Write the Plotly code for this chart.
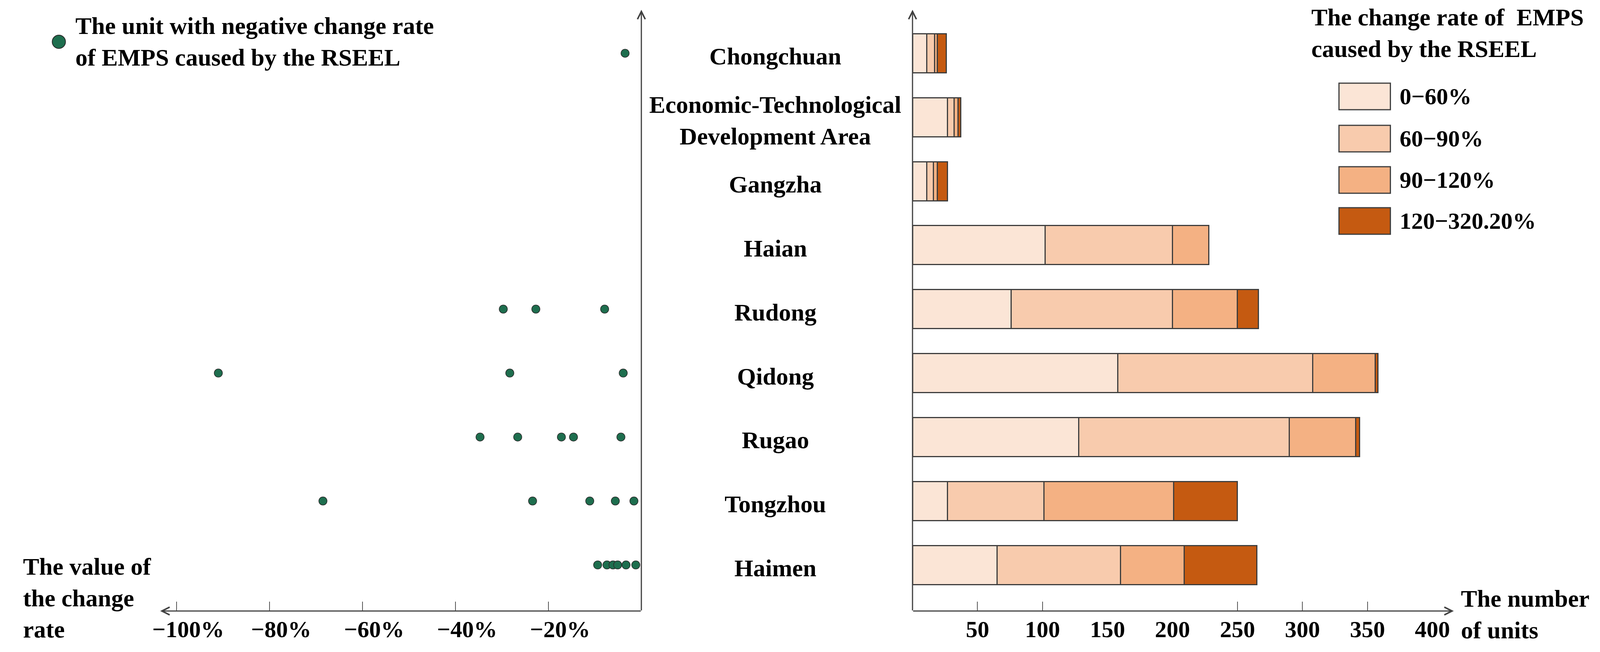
import plotly.graph_objects as go

# ---------------- data ----------------
districts = ["Chongchuan", "Economic-Technological Development Area", "Gangzha", "Haian",
             "Rudong", "Qidong", "Rugao", "Tongzhou", "Haimen"]
district_labels = ["Chongchuan", "Economic-Technological<br>Development Area", "Gangzha", "Haian",
                   "Rudong", "Qidong", "Rugao", "Tongzhou", "Haimen"]

bin_names = ["0\u221260%", "60\u221290%", "90\u2212120%", "120\u2212320.20%"]
units_0_60 = [11, 27, 11, 102, 76, 158, 128, 27, 65]
units_60_90 = [6, 5, 5, 98, 124, 150, 162, 74, 95]
units_90_120 = [2, 3, 3, 28, 50, 48, 51, 100, 49]
units_120_320 = [7, 2, 8, 0, 16, 2, 3, 49, 56]

# negative change rates (%) per district
neg_chongchuan = [-3.5]
neg_rudong = [-29.7, -22.7, -7.9]
neg_qidong = [-91.0, -28.3, -3.9]
neg_rugao = [-34.7, -26.6, -17.2, -14.6, -4.4]
neg_tongzhou = [-68.5, -23.4, -11.1, -5.6, -1.6]
neg_haimen = [-9.4, -7.4, -6.1, -5.1, -3.3, -1.2]

rate_ticks = [-100, -80, -60, -40, -20]
rate_ticktext = ["\u2212100%", "\u221280%", "\u221260%", "\u221240%", "\u221220%"]
unit_ticks = [50, 100, 150, 200, 250, 300, 350, 400]
unit_tickmarks = [50, 100, 250, 300, 350]

# ---------------- style ----------------
REF_W, REF_H = 4398, 1670      # reference geometry (positions given as fractions of it)
W, H = 4096, 1670              # browser viewport actually available
FONT = "Liberation Serif"
FS = 62
TFS = 60
bin_colors = ["#FBE5D6", "#F8CBAD", "#F4B183", "#C55A11"]
edge = "#3d3d3d"
dot_color = "#1E6E4E"
axis_color = "#404040"


def fx(p):
    return p / REF_W


def fy(p):
    return 1 - p / REF_H


y_dom = [fy(1565), fy(25)]
y_range = [-0.72, 8.68]
cat_order = list(reversed(districts))

fig = go.Figure()

for name, vals, col in zip(bin_names, [units_0_60, units_60_90, units_90_120, units_120_320], bin_colors):
    fig.add_trace(go.Bar(
        y=districts, x=vals, orientation="h", name=name,
        xaxis="x2", yaxis="y2", width=0.61,
        marker=dict(color=col, line=dict(color=edge, width=3)),
        showlegend=False,
    ))

neg_by_district = [
    ("Chongchuan", neg_chongchuan), ("Rudong", neg_rudong), ("Qidong", neg_qidong),
    ("Rugao", neg_rugao), ("Tongzhou", neg_tongzhou), ("Haimen", neg_haimen),
]
for d, vals in neg_by_district:
    fig.add_trace(go.Scatter(
        x=vals, y=[d] * len(vals), mode="markers", xaxis="x", yaxis="y",
        marker=dict(size=21, color=dot_color, line=dict(color="#2b2b2b", width=1.5)),
        showlegend=False,
    ))

# helper (invisible) trace so the tick-mark overlay axis is drawn
fig.add_trace(go.Scatter(x=[unit_tickmarks[0]], y=[districts[-1]], xaxis="x3", yaxis="y2",
                         mode="markers", marker=dict(opacity=0, size=1),
                         hoverinfo="skip", showlegend=False))

tickfont = dict(family=FONT, size=TFS, color="black", weight="bold")

fig.update_layout(
    width=W, height=H,
    margin=dict(l=0, r=0, t=0, b=0),
    paper_bgcolor="white", plot_bgcolor="rgba(0,0,0,0)",
    font=dict(family=FONT, size=FS, color="black", weight="bold"),
    barmode="stack",
    xaxis=dict(
        domain=[fx(421), fx(1750)], range=[-103.5, 0], anchor="y",
        tickmode="array", tickvals=rate_ticks, ticktext=rate_ticktext,
        ticks="inside", ticklen=24, tickwidth=2, tickcolor="#555555",
        ticklabelshift=30, ticklabelstandoff=6, tickfont=tickfont,
        showline=False, showgrid=False, zeroline=False,
    ),
    yaxis=dict(
        domain=y_dom, range=y_range, anchor="x", type="category",
        categoryorder="array", categoryarray=cat_order,
        showticklabels=False, showgrid=False, zeroline=False, showline=False, ticks="",
    ),
    xaxis2=dict(
        domain=[fx(2499), fx(3994)], range=[0, 416.4], anchor="y2",
        tickmode="array", tickvals=unit_ticks, ticks="",
        ticklabelstandoff=6, tickfont=tickfont,
        showline=False, showgrid=False, zeroline=False,
    ),
    xaxis3=dict(
        domain=[fx(2499), fx(3994)], range=[0, 416.4], anchor="y2", overlaying="x2",
        tickmode="array", tickvals=unit_tickmarks, showticklabels=False,
        ticks="inside", ticklen=24, tickwidth=2, tickcolor="#555555",
        showline=False, showgrid=False, zeroline=False,
    ),
    yaxis2=dict(
        domain=y_dom, range=y_range, anchor="x2", type="category",
        categoryorder="array", categoryarray=cat_order,
        showticklabels=False, showgrid=False, zeroline=False, showline=False, ticks="",
    ),
)

# axis lines with arrowheads
arrow_style = dict(text="", showarrow=True, arrowhead=5, arrowwidth=3, arrowsize=1.3,
                   arrowcolor=axis_color, standoff=0, startstandoff=0)
fig.add_annotation(x=1, y=1, xref="x domain", yref="y domain",
                   ax=1, ay=0, axref="x domain", ayref="y domain", **arrow_style)
fig.add_annotation(x=0, y=0, xref="x domain", yref="y domain",
                   ax=1, ay=0, axref="x domain", ayref="y domain", **arrow_style)
fig.add_annotation(x=0, y=1, xref="x2 domain", yref="y2 domain",
                   ax=0, ay=0, axref="x2 domain", ayref="y2 domain", **arrow_style)
fig.add_annotation(x=1, y=0, xref="x2 domain", yref="y2 domain",
                   ax=0, ay=0, axref="x2 domain", ayref="y2 domain", **arrow_style)

# district labels (centered between the panels)
for d, lab in zip(districts, district_labels):
    fig.add_annotation(x=fx(2120), y=d, xref="paper", yref="y2", text=lab,
                       showarrow=False, xanchor="center", yanchor="middle", yshift=-8,
                       align="center", font=dict(family=FONT, size=FS, weight="bold"))

# left legend (dot)
fig.add_shape(type="circle", xref="paper", yref="paper",
              xsizemode="pixel", ysizemode="pixel", xanchor=fx(141), yanchor=fy(107),
              x0=-17, x1=17, y0=-17, y1=17,
              fillcolor=dot_color, line=dict(color="#2b2b2b", width=2))
fig.add_annotation(x=fx(184), y=fy(30), xref="paper", yref="paper",
                   text="The unit with negative change rate<br>of EMPS caused by the RSEEL",
                   showarrow=False, xanchor="left", yanchor="top", align="left")

# right legend (rate bins)
fig.add_annotation(x=fx(3598), y=fy(8), xref="paper", yref="paper",
                   text="The change rate of\u00a0 EMPS<br>caused by the RSEEL",
                   showarrow=False, xanchor="left", yanchor="top", align="left")
legend_centers = [247, 355, 461, 566]
for name, col, cy in zip(bin_names, bin_colors, legend_centers):
    fig.add_shape(type="rect", xref="paper", yref="paper",
                  x0=fx(3677), x1=fx(3819), y0=fy(cy + 34), y1=fy(cy - 34),
                  fillcolor=col, line=dict(color=edge, width=3))
    fig.add_annotation(x=fx(3842), y=fy(cy), xref="paper", yref="paper", text=name,
                       showarrow=False, xanchor="left", yanchor="middle",
                       font=dict(family=FONT, size=TFS, weight="bold"))

# axis titles
fig.add_annotation(x=fx(40), y=fy(1415), xref="paper", yref="paper",
                   text="The value of<br>the change<br>rate",
                   showarrow=False, xanchor="left", yanchor="top", align="left")
fig.add_annotation(x=fx(4012), y=fy(1497), xref="paper", yref="paper",
                   text="The number<br>of units",
                   showarrow=False, xanchor="left", yanchor="top", align="left")

# fit the figure to the real viewport (no body margin)
fit_js = """
document.body.style.margin='0px';
document.body.style.overflow='hidden';
var gd=document.getElementById('{plot_id}');
if (window.innerWidth && window.innerHeight &&
    (window.innerWidth !== gd.layout.width || window.innerHeight !== gd.layout.height)) {
  Plotly.relayout(gd, {width: window.innerWidth, height: window.innerHeight});
}
"""
fig.write_html("out.html", post_script=fit_js, config={"displayModeBar": False})
